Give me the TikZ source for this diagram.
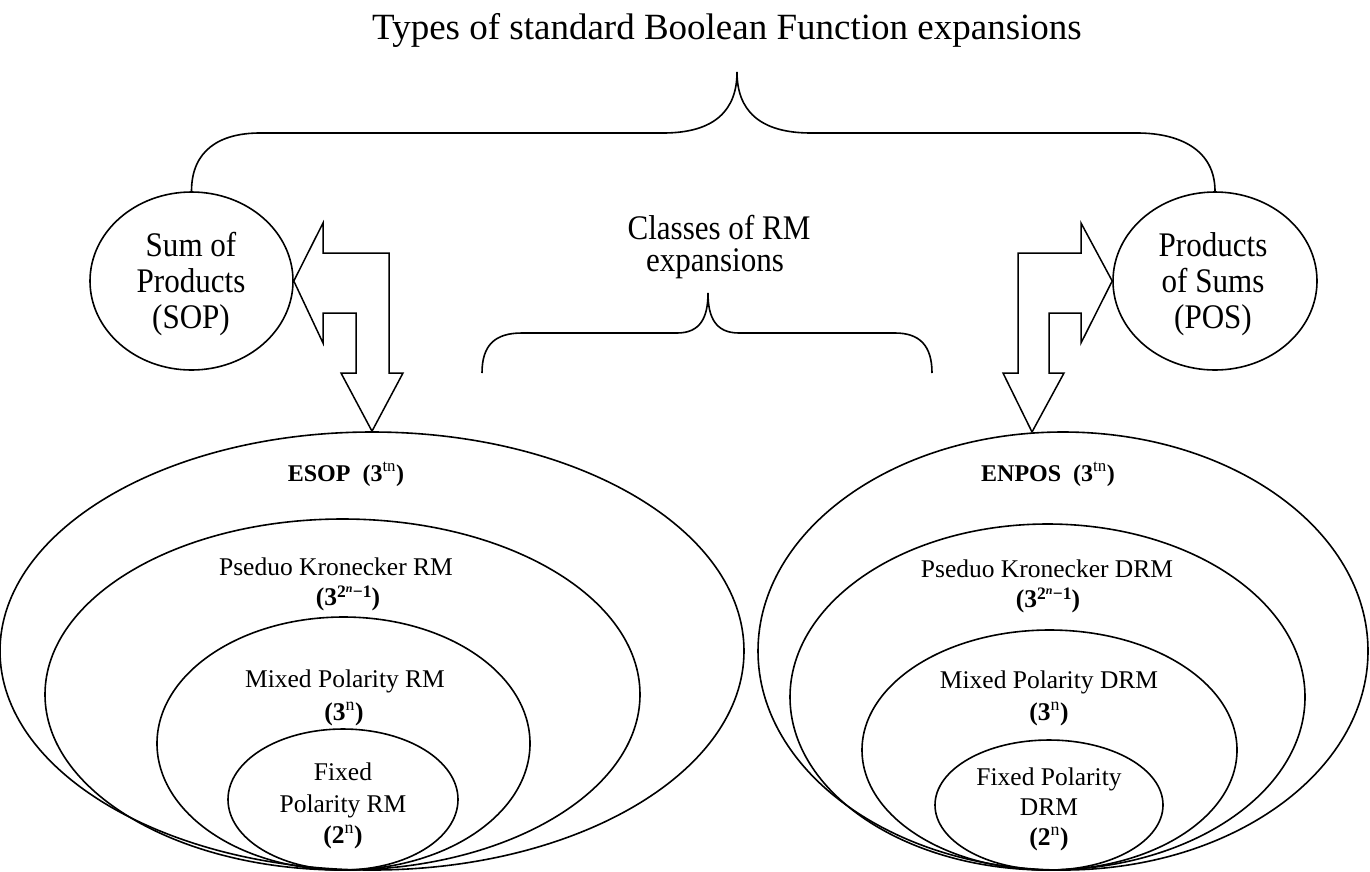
\documentclass[tikz,border=0pt]{standalone}
\usepackage{fontspec}
\setmainfont{Liberation Serif}
\newfontfamily\narrowserif{Liberation Serif}[FakeStretch=0.9]
\usetikzlibrary{shapes.geometric}

% bold exponent 3^{2^n-1}
\newcommand{\pkexp}{{\bfseries (3\raisebox{7.5pt}{\fontsize{17.5}{17.5}\selectfont 2\raisebox{5.5pt}{\fontsize{12}{12}\selectfont\itshape n}\kern0.5pt−1})}}

\begin{document}
\begin{tikzpicture}[x=1pt,y=-1pt,
  ring/.style={draw, ellipse, line width=1.6pt, inner sep=0pt},
  blk/.style={draw, line width=1.5pt, fill=white, line join=miter},
  brace/.style={draw, line width=1.6pt},
  big/.style={font=\narrowserif\fontsize{34.5}{40}\selectfont, anchor=base, inner sep=0pt},
  mid/.style={font=\fontsize{25.5}{30}\selectfont, anchor=base, inner sep=0pt},
  hd/.style={font=\fontsize{24}{28}\selectfont\bfseries, anchor=base, inner sep=0pt},
]
\useasboundingbox (0,0) rectangle (1370,871);

% title
\node[anchor=base, inner sep=0pt, font=\fontsize{37}{44}\selectfont] (title) at (727,39)
  {Types of standard Boolean Function expansions};

% SOP / POS
\node[ring, minimum width=203pt, minimum height=178pt] (sop) at (191.5,281) {};
\node[ring, minimum width=204pt, minimum height=178pt] (pos) at (1215,281) {};
\node[big] (sop1) at (191,256) {Sum of};
\node[big] (sop2) at (191,292) {Products};
\node[big] (sop3) at (191,328) {(SOP)};
\node[big] (pos1) at (1213,256) {Products};
\node[big] (pos2) at (1213,292) {of Sums};
\node[big] (pos3) at (1213,328) {(POS)};

% top brace
\coordinate (tp) at (737,72);
\draw[brace] (sop.north) .. controls (191.5,150) and (220,133) .. (260,133) -- (663,133)
  .. controls (715,133) and (737,110) .. (tp)
  .. controls (737,110) and (759,133) .. (811,133) -- (1137,133)
  .. controls (1180,133) and (1215,150) .. (pos.north);

% middle brace
\coordinate (ml) at (482,373);
\coordinate (mp) at (708,293);
\coordinate (mr) at (932,373);
\draw[brace] (ml) .. controls (482,345) and (495,333) .. (522,333) -- (677,333)
  .. controls (700,333) and (708,318) .. (mp)
  .. controls (708,318) and (716,333) .. (739,333) -- (895,333)
  .. controls (919,333) and (932,345) .. (mr);
\node[big] (cls1) at (719,239) {Classes of RM};
\node[big] (cls2) at (715,271) {expansions};

% left nest
\node[ring, minimum width=744pt, minimum height=438pt] (esop) at (372,651) {};
\node[ring, minimum width=595pt, minimum height=351pt] (pkrm) at (342.5,694.5) {};
\node[ring, minimum width=373pt, minimum height=253pt] (mprm) at (343.5,743.5) {};
\node[ring, minimum width=230pt, minimum height=141pt] (fprm) at (343,799.5) {};

\node[hd] (esopt) at (346,481) {ESOP\ \ (3\textsuperscript{\mdseries tn})};
\node[mid] (pkrmt) at (336,575) {Pseduo Kronecker RM};
\node[mid] (pkrmn) at (348,605) {\pkexp};
\node[mid] (mprmt) at (345,687) {Mixed Polarity RM};
\node[mid] (mprmn) at (344,720) {\bfseries (3\textsuperscript{\mdseries n})};
\node[mid] (fprm1) at (343,780) {Fixed};
\node[mid] (fprm2) at (343,812) {Polarity RM};
\node[mid] (fprmn) at (343,843) {\bfseries (2\textsuperscript{\mdseries n})};

% right nest
\node[ring, minimum width=610pt, minimum height=438pt] (enpos) at (1063,651) {};
\node[ring, minimum width=515pt, minimum height=346pt] (pkdrm) at (1047.5,697) {};
\node[ring, minimum width=375pt, minimum height=240pt] (mpdrm) at (1049.5,750) {};
\node[ring, minimum width=228pt, minimum height=130pt] (fpdrm) at (1049,805) {};

\node[hd] (enpost) at (1048,481) {ENPOS\ \ (3\textsuperscript{\mdseries tn})};
\node[mid] (pkdrmt) at (1047,577) {Pseduo Kronecker DRM};
\node[mid] (pkdrmn) at (1048,607) {\pkexp};
\node[mid] (mpdrmt) at (1049,688) {Mixed Polarity DRM};
\node[mid] (mpdrmn) at (1049,720) {\bfseries (3\textsuperscript{\mdseries n})};
\node[mid] (fpdrm1) at (1049,785) {Fixed Polarity};
\node[mid] (fpdrm2) at (1049,815) {DRM};
\node[mid] (fpdrmn) at (1049,845) {\bfseries (2\textsuperscript{\mdseries n})};

% block arrows: SOP -> ESOP, POS -> ENPOS
\draw[blk] (sop.east) -- (323,223) -- (323,253) -- (389,253) -- (389,373) -- (403,373)
  -- (esop.north) -- (341,373) -- (356,373) -- (356,313) -- (323,313) -- (323,343) -- cycle;
\coordinate (rt) at (1032,432);
\draw[blk] (pos.west) -- (1081,223) -- (1081,253) -- (1018,253) -- (1018,373) -- (1003,373)
  -- (rt) -- (1064,373) -- (1049,373) -- (1049,313) -- (1081,313) -- (1081,343) -- cycle;
\end{tikzpicture}
\end{document}
